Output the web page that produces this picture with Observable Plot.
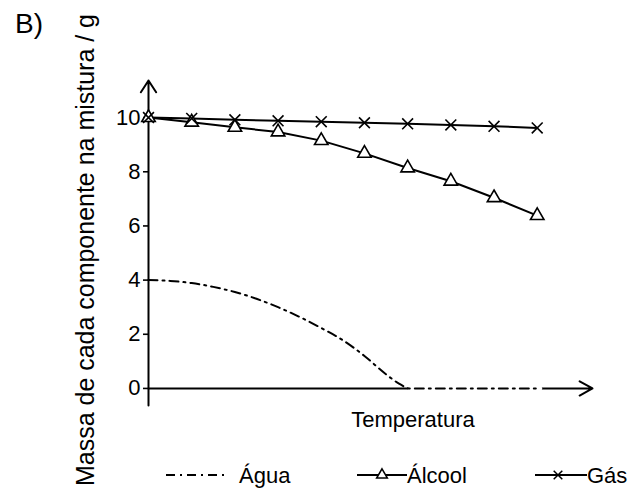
<!DOCTYPE html>
<html>
<head>
<meta charset="utf-8">
<script src="https://cdn.jsdelivr.net/npm/d3@7"></script>
<script src="https://cdn.jsdelivr.net/npm/@observablehq/plot@0.6"></script>
<style>
  html, body { margin: 0; padding: 0; background: #fff; overflow: hidden; }
  #chart { width: 644px; height: 493px; }
  #chart svg { display: block; max-width: none !important; }
</style>
</head>
<body>
<div id="chart"></div>
<script>
// ---- data ----
const temperatura = [0, 1, 2, 3, 4, 5, 6, 7, 8, 9];
const gas    = [10, 9.97, 9.92, 9.88, 9.85, 9.81, 9.77, 9.73, 9.68, 9.62];
const alcool = [10, 9.83, 9.64, 9.47, 9.15, 8.68, 8.14, 7.65, 7.04, 6.38];
const aguaT  = [0, 0.5, 1, 1.5, 2, 2.5, 3, 3.5, 4, 4.5, 5, 5.5, 5.8, 6.05, 7, 8, 9.07];
const agua   = [4, 3.97, 3.89, 3.75, 3.56, 3.31, 3.0, 2.64, 2.23, 1.78, 1.2, 0.52, 0.18, 0, 0, 0, 0];
const yTicks = [0, 2, 4, 6, 8, 10];
const seriesNames = ["Água", "Álcool", "Gás"];
const yTitle = "Massa de cada componente na mistura / g";
const xTitle = "Temperatura";
const panelLabel = "B)";

// axis extents (arrow ends)
const xMax = 10.28, yMin = -0.63, yMax = 11.37;

const gasData = temperatura.map((t, i) => ({t, v: gas[i]}));
const alcData = temperatura.map((t, i) => ({t, v: alcool[i]}));
const aguaData = aguaT.map((t, i) => ({t, v: agua[i]}));
const aguaZero = aguaData.filter(d => d.v === 0);

const FONT = "'Liberation Sans', Arial, sans-serif";
const DASH = "9,5,2,5";

const plot = Plot.plot({
  width: 644,
  height: 493,
  marginLeft: 148,
  marginRight: 52,
  marginTop: 80,
  marginBottom: 88,
  x: {domain: [0, xMax], axis: null},
  y: {domain: [yMin, yMax], label: null},
  style: {fontFamily: FONT, background: "white", color: "black", overflow: "visible"},
  marks: [
    Plot.axisY(yTicks, {tickSize: 5, tickPadding: 3, fontSize: 22, strokeWidth: 1.6, label: null}),
    Plot.arrow([{a: 0, b: yMin, c: 0, d: yMax}], {x1: "a", y1: "b", x2: "c", y2: "d", stroke: "black", strokeWidth: 2, headLength: 10.5, headAngle: 66}),
    Plot.arrow([{a: 0, b: 0, c: xMax, d: 0}], {x1: "a", y1: "b", x2: "c", y2: "d", stroke: "black", strokeWidth: 2, headLength: 11, headAngle: 58}),
    Plot.line(aguaZero, {x: "t", y: "v", stroke: "white", strokeWidth: 4}),
    Plot.line(aguaData, {x: "t", y: "v", stroke: "black", strokeWidth: 2, strokeDasharray: DASH, curve: "monotone-x"}),
    Plot.line(alcData, {x: "t", y: "v", stroke: "black", strokeWidth: 2}),
    Plot.line(gasData, {x: "t", y: "v", stroke: "black", strokeWidth: 2}),
    Plot.dot(alcData, {x: "t", y: "v", symbol: "triangle", r: 5, fill: "white", stroke: "black", strokeWidth: 1.6}),
    Plot.dot(gasData, {x: "t", y: "v", symbol: "times", r: 5, stroke: "black", strokeWidth: 1.6})
  ]
});

document.getElementById("chart").appendChild(plot);

// ---- titles and legend (layout only) ----
const svg = d3.select(plot);
const g = svg.append("g").attr("font-family", FONT).attr("fill", "black").attr("text-anchor", "start");

g.append("text").attr("x", 15).attr("y", 33).attr("font-size", 28).text(panelLabel);

g.append("text")
  .attr("transform", "translate(94,250) rotate(-90)")
  .attr("text-anchor", "middle")
  .attr("font-size", 25)
  .attr("textLength", 472)
  .attr("lengthAdjust", "spacingAndGlyphs")
  .text(yTitle);

g.append("text").attr("x", 413).attr("y", 427).attr("text-anchor", "middle")
  .attr("font-size", 22).text(xTitle);

const ly = 475, lb = 483;
const lg = svg.append("g").attr("font-family", FONT).attr("text-anchor", "start").attr("fill", "black");
// Água
lg.append("line").attr("x1", 166).attr("x2", 226).attr("y1", ly).attr("y2", ly)
  .attr("stroke", "black").attr("stroke-width", 2).attr("stroke-dasharray", DASH);
lg.append("text").attr("x", 239).attr("y", lb).attr("font-size", 22).text(seriesNames[0]);
// Álcool
lg.append("line").attr("x1", 357).attr("x2", 407).attr("y1", ly).attr("y2", ly)
  .attr("stroke", "black").attr("stroke-width", 2);
lg.append("path").attr("d", d3.symbol(d3.symbolTriangle, 50)())
  .attr("transform", `translate(382,${ly})`).attr("fill", "white").attr("stroke", "black").attr("stroke-width", 1.5);
lg.append("text").attr("x", 407).attr("y", lb).attr("font-size", 22).text(seriesNames[1]);
// Gás
lg.append("line").attr("x1", 535).attr("x2", 587).attr("y1", ly).attr("y2", ly)
  .attr("stroke", "black").attr("stroke-width", 2);
lg.append("path").attr("d", d3.symbol(d3.symbolTimes, 50)())
  .attr("transform", `translate(558,${ly})`).attr("fill", "none").attr("stroke", "black").attr("stroke-width", 1.5);
lg.append("text").attr("x", 587).attr("y", lb).attr("font-size", 22).text(seriesNames[2]);
</script>
</body>
</html>
